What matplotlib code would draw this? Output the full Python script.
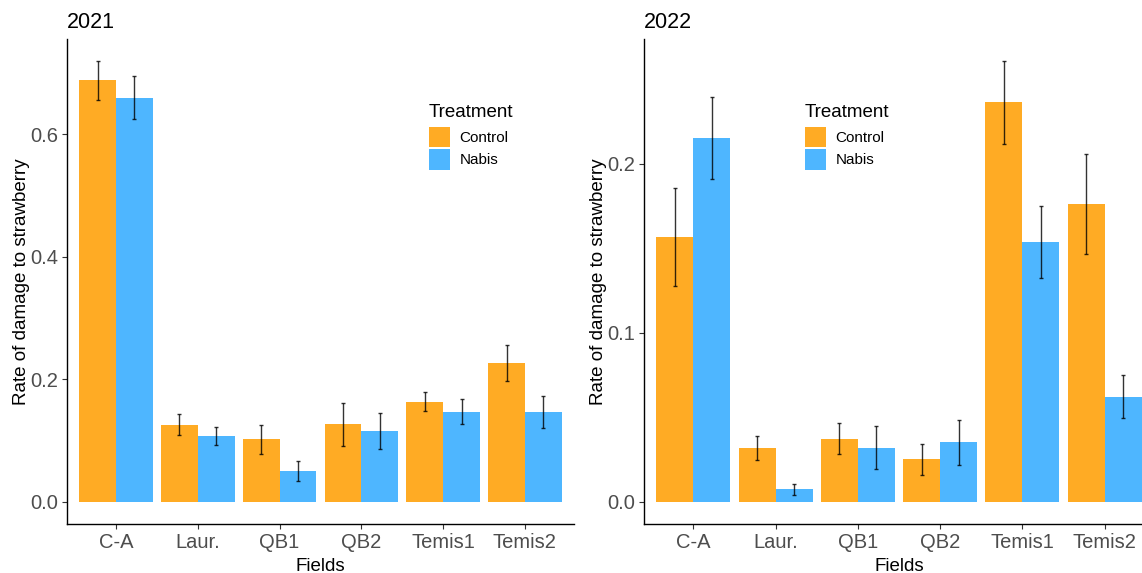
import numpy as np
import matplotlib.pyplot as plt
from matplotlib.patches import Patch

plt.rcParams['font.family'] = ['Liberation Sans', 'DejaVu Sans']

fields = ['C-A', 'Laur.', 'QB1', 'QB2', 'Temis1', 'Temis2']
treatments = ['Control', 'Nabis']
colors = ['#FFAB24', '#4EB6FF']

# mean damage rate and standard error per field, by year and treatment
control_2021 = [0.6875, 0.126, 0.102, 0.1265, 0.1635, 0.227]
control_2021_se = [0.0315, 0.0167, 0.023, 0.035, 0.0152, 0.029]
nabis_2021 = [0.6595, 0.108, 0.050, 0.115, 0.147, 0.147]
nabis_2021_se = [0.0355, 0.015, 0.016, 0.0293, 0.0205, 0.0257]

control_2022 = [0.1566, 0.032, 0.0375, 0.0252, 0.2361, 0.176]
control_2022_se = [0.0292, 0.007, 0.0092, 0.0092, 0.0245, 0.0295]
nabis_2022 = [0.2149, 0.0075, 0.032, 0.0352, 0.1536, 0.0623]
nabis_2022_se = [0.0242, 0.0033, 0.0128, 0.0133, 0.0215, 0.0127]

years = ['2021', '2022']
means = {'2021': [control_2021, nabis_2021], '2022': [control_2022, nabis_2022]}
errs = {'2021': [control_2021_se, nabis_2021_se], '2022': [control_2022_se, nabis_2022_se]}
yticks = {'2021': [0.0, 0.2, 0.4, 0.6], '2022': [0.0, 0.1, 0.2]}

W, H = 1142, 573
fig = plt.figure(figsize=(W / 100, H / 100), dpi=100)

# panel boxes in pixels: left, top, right, bottom
boxes = [(67, 39, 574, 524), (644, 39, 1154, 524)]
# top-left corner of each legend, pixels
legend_pos = [(429, 104), (805, 104)]

x = np.arange(len(fields))
bw = 0.45

for year, (l, t, r, b), (lx, ly) in zip(years, boxes, legend_pos):
    ax = fig.add_axes([l / W, 1 - b / H, (r - l) / W, (b - t) / H])
    top = 0
    for i, (m, se, col) in enumerate(zip(means[year], errs[year], colors)):
        m = np.array(m)
        se = np.array(se)
        pos = x + (i - 0.5) * bw
        ax.bar(pos, m, width=bw, color=col, linewidth=0)
        ax.errorbar(pos, m, yerr=se, fmt='none', ecolor='black', alpha=0.8,
                    elinewidth=1.0, capsize=1.6, capthick=1.0)
        top = max(top, (m + se).max())
    ax.set_ylim(-0.05 * top, top * 1.05)
    ax.set_xlim(-0.6, len(fields) - 0.4)
    ax.set_xticks(x)
    ax.set_xticklabels(fields)
    ax.set_yticks(yticks[year])
    ax.set_yticklabels([f'{v:.1f}' for v in yticks[year]])
    ax.tick_params(labelsize=14.5, labelcolor='#4D4D4D', length=3.5, width=0.8,
                   color='#333333', pad=3)
    for s in ['top', 'right']:
        ax.spines[s].set_visible(False)
    for s in ['left', 'bottom']:
        ax.spines[s].set_linewidth(1.0)
    ax.set_xlabel('Fields', fontsize=13.5, labelpad=4)
    ax.set_ylabel('Rate of damage to strawberry', fontsize=13.5, labelpad=0)
    ax.set_title(year, loc='left', fontsize=15.5, pad=8)

    # legend drawn inside the panel
    handles = [Patch(facecolor=c, edgecolor='none') for c in colors]
    leg = fig.legend(handles, treatments, title='Treatment', frameon=False,
                     loc='upper left',
                     bbox_to_anchor=(lx / W, 1 - ly / H),
                     fontsize=11, title_fontsize=13.5, handlelength=1.4,
                     handleheight=1.7, handletextpad=0.6, labelspacing=0.12,
                     borderpad=0, borderaxespad=0)
    leg._legend_box.align = 'left'
    leg._legend_box.sep = 4

fig.savefig('out.png', dpi=100)
